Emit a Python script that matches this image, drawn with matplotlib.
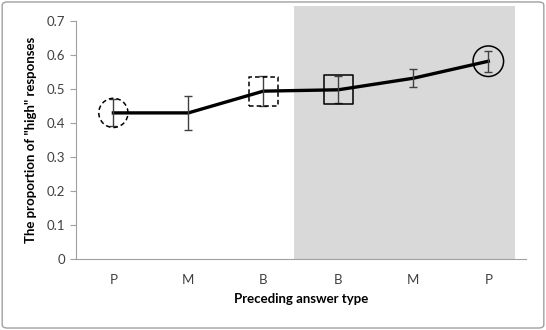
import matplotlib
matplotlib.use("Agg")
import matplotlib.pyplot as plt
from matplotlib.patches import Rectangle, FancyBboxPatch

plt.rcParams['font.family'] = ['Lato', 'DejaVu Sans']

# data
categories = ["P", "M", "B", "B", "M", "P"]
proportion = [0.430, 0.430, 0.494, 0.498, 0.532, 0.582]
errors = [0.040, 0.049, 0.044, 0.040, 0.026, 0.031]
y_ticks = [0, 0.1, 0.2, 0.3, 0.4, 0.5, 0.6, 0.7]
y_tick_labels = ["0", "0.1", "0.2", "0.3", "0.4", "0.5", "0.6", "0.7"]

fig = plt.figure(figsize=(5.46, 3.30), dpi=100)
ax = fig.add_axes([0.139, 0.215, 0.824, 0.721])

x = list(range(len(categories)))

# gray background behind the second half (sticks out above the axis top)
ax.add_patch(Rectangle((2.41, 0), 2.94, 0.745, facecolor="#d9d9d9",
                       edgecolor="none", zorder=0, clip_on=False))

ax.plot(x, proportion, color="black", linewidth=2.4, zorder=3)
ax.errorbar(x, proportion, yerr=errors, fmt="none", ecolor="#404040",
            elinewidth=1.0, capsize=3, capthick=1.0, zorder=4)

# highlight markers: dashed on the left half, solid on the right
dash = (0, (3, 2))
ax.scatter([x[0]], [proportion[0]], s=21 ** 2, marker="o", facecolors="none",
           edgecolors="black", linewidths=1.1, linestyle=dash, zorder=5)
ax.scatter([x[2]], [proportion[2]], s=21 ** 2, marker="s", facecolors="none",
           edgecolors="black", linewidths=1.1, linestyle=dash, zorder=5)
ax.scatter([x[3]], [proportion[3]], s=21 ** 2, marker="s", facecolors="none",
           edgecolors="black", linewidths=1.1, zorder=5)
ax.scatter([x[5]], [proportion[5]], s=22 ** 2, marker="o", facecolors="none",
           edgecolors="black", linewidths=1.1, zorder=5)

ax.set_xlim(-0.5, 5.5)
ax.set_ylim(0, 0.7)
ax.set_xticks(x)
ax.set_xticklabels(categories)
ax.set_yticks(y_ticks)
ax.set_yticklabels(y_tick_labels)
ax.tick_params(axis="x", length=0, pad=11, labelsize=9.5, colors="#404040")
ax.tick_params(axis="y", length=4, color="#a0a0a0", labelsize=9.5, labelcolor="#404040")
for side in ["top", "right"]:
    ax.spines[side].set_visible(False)
ax.spines["left"].set_color("#a0a0a0")
ax.spines["bottom"].set_color("#a0a0a0")
ax.set_facecolor("none")

ax.set_xlabel("Preceding answer type", fontsize=9.5, fontweight="bold", labelpad=5)
ax.set_ylabel('The proportion of "high" responses', fontsize=9.5, fontweight="bold", labelpad=7)

# outer chart border
fig.patches.append(FancyBboxPatch((0.004, 0.006), 0.992, 0.988,
                                  boxstyle="round,pad=0,rounding_size=0.01",
                                  transform=fig.transFigure, facecolor="none",
                                  edgecolor="#a0a0a0", linewidth=1.0))

fig.savefig("out.png", dpi=100)
